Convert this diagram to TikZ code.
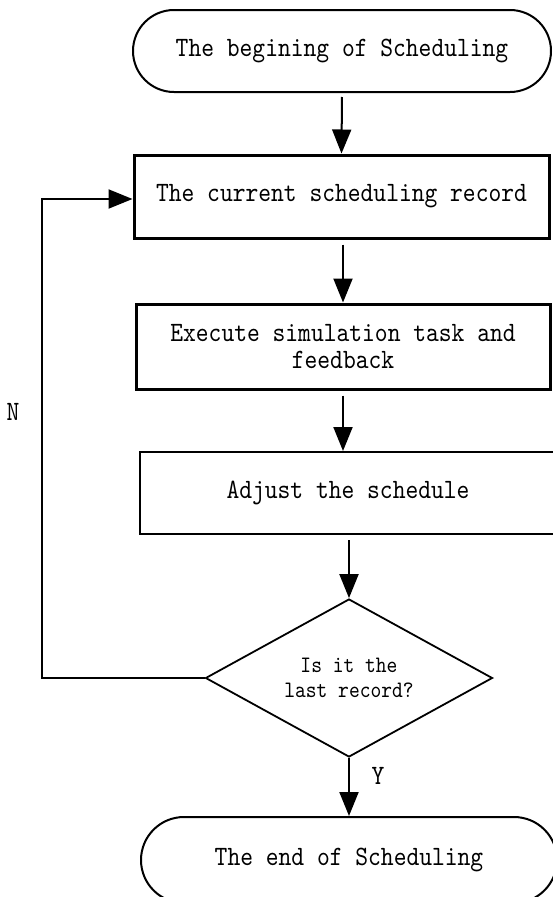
\documentclass[tikz,border=0pt]{standalone}
\usepackage{fontspec}
\newfontfamily\flowfont{lmmono10-regular.otf}[FakeStretch=0.87]
\usetikzlibrary{arrows.meta,shapes.misc,shapes.geometric}

\tikzset{
	flow/.style = {line width=2pt, -{Triangle[length=24pt,width=19pt]}},
	terminal/.style = {rounded rectangle, draw, line width=2pt, inner sep=0pt},
	process/.style = {rectangle, draw, line width=3pt, inner sep=0pt, align=center},
	decision/.style = {diamond, draw, line width=1.8pt, inner sep=0pt, align=center,
		shape aspect=1.8, minimum width=287pt, minimum height=158pt},
}

\begin{document}
\begin{tikzpicture}[x=1pt, y=-1pt, font=\flowfont\fontsize{28}{27}\selectfont]
	\useasboundingbox (0,0) rectangle (552,897);
	\node[terminal, minimum width=418pt, minimum height=82pt] (start) at (342,51) {The begining of Scheduling};
	\node[process, minimum width=415pt, minimum height=83pt] (rec) at (341.5,196.5) {The current scheduling record};
	\node[process, minimum width=414pt, minimum height=85pt] (exec) at (343,346.5) {Execute simulation task and\\feedback};
	\begin{scope}[process/.append style = {line width=2pt}]
		\node[process, minimum width=416pt, minimum height=82pt] (adjust) at (348,493) {Adjust the schedule};
	\end{scope}
	\node[decision, font=\flowfont\fontsize{23.6}{25}\selectfont] (last) at (349,678) {Is it the\\last record?};
	\node[terminal, minimum width=416pt, minimum height=86pt] (finish) at (349,860) {The end of Scheduling};
	\coordinate (bend) at (42,199);
	% main line
	\draw[flow, shorten <=4pt] (start.south) -- (rec.north);
	\draw[flow, shorten <=5pt] (exec.north |- rec.south) -- (exec.north);
	\draw[flow, shorten <=5pt] (exec.south) -- (exec.south |- adjust.north);
	\draw[flow, shorten <=5pt] (last.north |- adjust.south) -- (last.north);
	\draw[flow] (last.south) -- (finish.north);
	\node (yes) at (378,776) {Y};
	% back to the next record
	\draw[flow] (last.west) -| (bend) -- (bend -| rec.west);
	\node (no) at (13,412) {N};
\end{tikzpicture}
\end{document}
